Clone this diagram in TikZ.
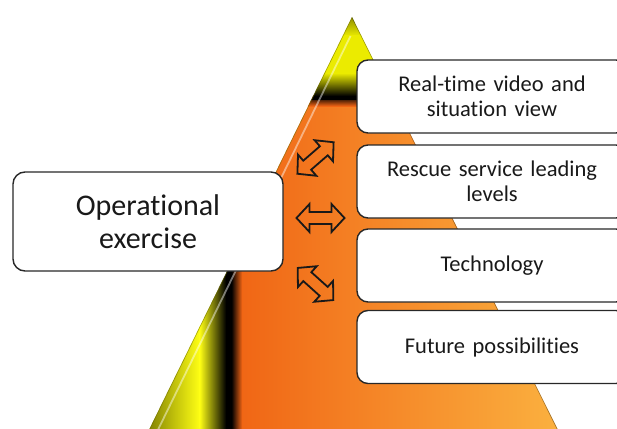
\documentclass[tikz,border=0pt]{standalone}
\usepackage{fontspec}
\setmainfont{Carlito}[Ligatures=NoCommon]
\definecolor{orA}{RGB}{240,100,20}
\definecolor{orB}{RGB}{251,178,64}
\definecolor{yelA}{RGB}{235,235,0}
\definecolor{yelB}{RGB}{255,255,20}
\definecolor{olv}{RGB}{110,110,0}
\definecolor{edgeline}{RGB}{40,40,40}
\begin{document}
\begin{tikzpicture}[x=1pt,y=-1pt,
  box/.style={draw=edgeline, line width=1.4pt, fill=white, rounded corners=11pt,
    align=center, text=black!90, inner sep=0pt},
  rbox/.style={box, minimum width=270pt, minimum height=73pt, text width=262pt,
    font=\fontsize{22.5}{25}\selectfont},
  blockarrow/.style={draw=black!90, line width=1.8pt, line join=miter},
  dblarrow/.pic={\draw[blockarrow] (-24,0) -- (-11,-14) -- (-11,-6) -- (11,-6) -- (11,-14)
      -- (24,0) -- (11,14) -- (11,6) -- (-11,6) -- (-11,14) -- cycle;}]
\useasboundingbox (0,0) rectangle (617,428);
\clip (0,0) rectangle (617,428);
\coordinate (apex) at (352,17);
\coordinate (bl) at (144,440);
\coordinate (br) at (563,440);
% pyramid
\begin{scope}
  \clip (apex) -- (bl) -- (br) -- cycle;
  % orange body
  \shade[left color=orA, right color=orB] (232,95) rectangle (566,441);
  % top yellow cap
  \shade[top color=olv, bottom color=yelA] (300,10) rectangle (420,36);
  \fill[yelA] (300,35) rectangle (420,74);
  \shade[top color=yelA, bottom color=black] (300,73) rectangle (420,96);
  \fill[black] (300,95.5) rectangle (420,100.5);
  \shade[top color=black!60!orA, bottom color=orA] (300,100.5) rectangle (420,106);
  % left yellow strip
  \shade[left color=olv, right color=yelB] (140,240) rectangle (200,441);
  \shade[left color=yelB, right color=black] (199.5,240) rectangle (226,441);
  \fill[black] (225.5,240) rectangle (232,441);
  \shade[left color=black, right color=orA] (231.5,240) rectangle (242,441);
  % bevel highlights
  \draw[white, opacity=0.45, line width=1.8pt] (350.5,36) -- (153,440);
  \draw[olv, opacity=0.6, line width=1.2pt] (apex) -- (bl);
  \draw[black, opacity=0.35, line width=1.2pt] (apex) -- (br);
\end{scope}
% arrows
\pic (arrA) at (315.5,158) [rotate=41] {dblarrow};
\pic (arrB) at (320.5,218) {dblarrow};
\pic (arrC) at (315.5,284) [rotate=-42] {dblarrow};
% boxes
\node[box, minimum width=270pt, minimum height=99pt, rounded corners=12pt,
  font=\fontsize{30}{33}\selectfont] (ops) at (148,221.5) {Operational\\exercise};
\node[rbox] (video) at (492,96.5) {Real-time video and\\situation view};
\node[rbox] (rescue) at (492,181.5) {Rescue service leading\\levels};
\node[rbox] (tech) at (492,265.5) {Technology};
\node[rbox] (future) at (492,347) {Future possibilities};
\end{tikzpicture}
\end{document}
